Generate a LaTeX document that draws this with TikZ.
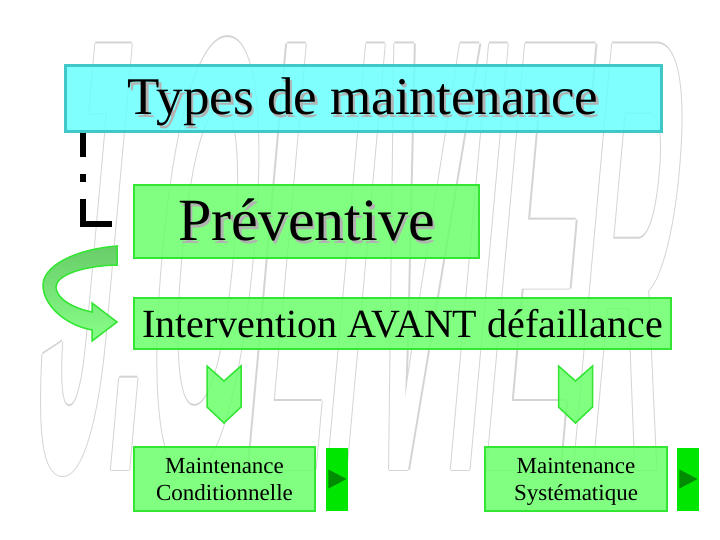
\documentclass[tikz,border=0pt]{standalone}
\usepackage{fontspec}
\setmainfont{Liberation Serif}
\newfontfamily\wmfont[FakeStretch=0.21,FakeSlant=0.09]{Liberation Sans}
\usepackage{xcolor}
\usepackage{contour}
\contourlength{1.2pt}
\contournumber{4}
\usepackage{tikz}
\usetikzlibrary{positioning}

\definecolor{cyanfill}{RGB}{106,255,255}
\definecolor{cyanline}{RGB}{64,200,200}
\definecolor{greenfill}{RGB}{106,255,106}
\definecolor{greenline}{RGB}{51,230,51}
\definecolor{btnfill}{RGB}{0,230,0}
\definecolor{btntri}{RGB}{0,140,0}
\definecolor{arrowdark}{RGB}{105,205,105}
\definecolor{arrowlight}{RGB}{135,255,135}
\definecolor{wmgray}{RGB}{212,212,212}

\newcommand\shadowtxt[1]{\makebox[0pt][l]{\hspace*{2.5pt}\raisebox{-2.5pt}{\color{black!30}#1}}#1}

\begin{document}
\begin{tikzpicture}[x=1pt, y=-1pt,
    titlebox/.style={draw=cyanline, line width=3pt, fill=cyanfill, fill opacity=0.85, text opacity=1, minimum width=596pt, minimum height=66pt, inner sep=0pt, text height=40pt, text depth=8pt},
    greenbox/.style={draw=greenline, line width=2.5pt, fill=greenfill, fill opacity=0.85, text opacity=1, inner sep=0pt},
    chevron/.style={draw=greenline, line width=1.5pt, fill=greenfill, fill opacity=0.85, line join=miter},
    playbtn/.style={fill=btnfill, minimum width=22pt, minimum height=63pt, inner sep=0pt},
    playtri/.style={fill=btntri},
    linkdash/.style={line width=6pt, dash pattern=on 24pt off 17pt on 8pt off 17pt on 60pt off 10pt},
    bendarrow/.style={draw=greenline, line width=1.5pt, top color=arrowdark, bottom color=arrowlight}]

    \useasboundingbox (0,0) rectangle (720,540);
    % watermark behind everything
    \node[anchor=base west, inner sep=0pt] (wmark) at (30,470) {\wmfont\bfseries\fontsize{620}{620}\selectfont\color{white}\contour{wmgray}{J.OLIVIER}};

    % draw the boxes
    \node[titlebox, font=\fontsize{53}{53}\selectfont] (types) at (363,99) {\shadowtxt{Types de maintenance}};
    \node[greenbox, minimum width=345pt, minimum height=73pt, font=\fontsize{60}{60}\selectfont] (prev) at (306.5,221.5) {\shadowtxt{Préventive}};
    \node[greenbox, minimum width=537pt, minimum height=51pt, font=\fontsize{40}{40}\selectfont] (avant) at (402.5,323.5) {Intervention AVANT défaillance};
    \node[greenbox, minimum width=181pt, minimum height=64pt, align=center, font=\fontsize{23}{27}\selectfont] (cond) at (224.5,479) {Maintenance\\Conditionnelle};
    \node[greenbox, minimum width=182pt, minimum height=64pt, align=center, font=\fontsize{23}{27}\selectfont] (syst) at (576,479) {Maintenance\\\smash{Systématique}};

    % play buttons
    \node[playbtn, right=10pt of cond] (btnc) {};
    \node[playbtn, right=9pt of syst] (btns) {};
    \fill[playtri] (btnc) ++(-9,-9.5) -- ++(18,9.5) -- ++(-18,9.5) -- cycle;
    \fill[playtri] (btns) ++(-9,-9.5) -- ++(18,9.5) -- ++(-18,9.5) -- cycle;

    % dashed link from the title
    \coordinate (dashend) at (112,224);
    \draw[linkdash] (types.south west) ++(19,0) |- (dashend);

    % chevrons under the intervention box
    \foreach \cx in {224,575.5}
        \draw[chevron] (\cx,381) -- (\cx-17,366) -- (\cx-17,407) -- (\cx,423) -- (\cx+17,407) -- (\cx+17,366) -- cycle;

    % curved arrow
    \draw[bendarrow] (117,246) .. controls (70,250) and (43,268) .. (43,285) .. controls (43,305) and (65,325) .. (92,330) -- (92,341) -- (117,322) -- (92,303) -- (92,312) .. controls (72,308) and (56,298) .. (56,287) .. controls (56,276) and (80,266) .. (117,265) -- cycle;
\end{tikzpicture}
\end{document}
